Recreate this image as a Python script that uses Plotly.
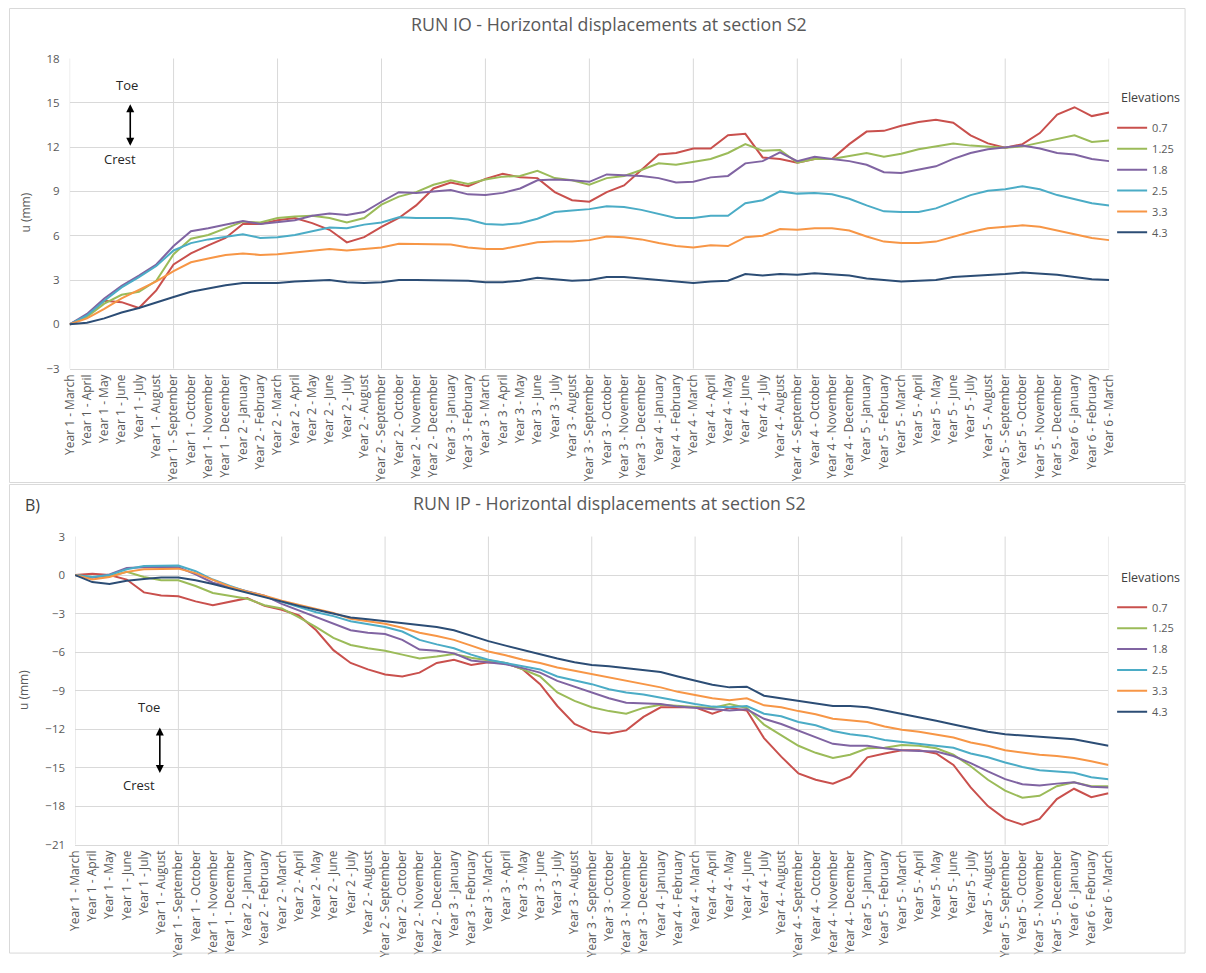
import plotly.graph_objects as go

# ---- category labels (monthly readings, Year 1 March .. Year 6 March) ----
MONTHS = ["January", "February", "March", "April", "May", "June", "July",
          "August", "September", "October", "November", "December"]
labels = ([f"Year 1 - {m}" for m in MONTHS[2:]]
          + [f"Year {y} - {m}" for y in range(2, 6) for m in MONTHS]
          + [f"Year 6 - {m}" for m in MONTHS[:3]])

elevations = ["0.7", "1.25", "1.8", "2.5", "3.3", "4.3"]
colors = ["#C9504D", "#9BBB59", "#8064A2", "#4BACC6", "#F79646", "#2C4D75"]

# ---- RUN IO : horizontal displacement u (mm) ----
io_07 = [0, 0.6, 1.6, 1.5, 1.1, 2.3, 4.05, 4.8, 5.35, 5.85,
         6.8, 6.8, 7.05, 7.2, 6.85, 6.4, 5.55, 5.9, 6.6, 7.2,
         8.05, 9.2, 9.6, 9.35, 9.85, 10.2, 9.95, 9.9, 8.95, 8.4,
         8.3, 8.95, 9.4, 10.45, 11.5, 11.6, 11.9, 11.9, 12.8, 12.9,
         11.3, 11.2, 10.95, 11.2, 11.2, 12.2, 13.05, 13.1, 13.45, 13.7,
         13.85, 13.65, 12.8, 12.25, 11.95, 12.2, 12.95, 14.2, 14.7, 14.1, 14.35]
io_125 = [0, 0.5, 1.4, 2.0, 2.2, 2.95, 4.75, 5.8, 6.05, 6.5,
          6.95, 6.9, 7.2, 7.3, 7.35, 7.2, 6.9, 7.2, 8.1, 8.65,
          8.95, 9.45, 9.75, 9.5, 9.8, 10.0, 10.05, 10.4, 9.9, 9.75,
          9.45, 9.9, 10.05, 10.45, 10.9, 10.8, 11.0, 11.2, 11.6, 12.2,
          11.75, 11.8, 10.95, 11.2, 11.2, 11.4, 11.6, 11.35, 11.55, 11.85,
          12.05, 12.25, 12.1, 12.05, 11.95, 12.05, 12.3, 12.6, 12.8, 12.35, 12.45]
io_18 = [0, 0.7, 1.75, 2.6, 3.3, 4.05, 5.3, 6.3, 6.5, 6.75,
         7.0, 6.8, 6.9, 7.05, 7.35, 7.5, 7.4, 7.6, 8.3, 8.95,
         8.9, 9.0, 9.1, 8.8, 8.75, 8.9, 9.2, 9.75, 9.8, 9.75,
         9.65, 10.15, 10.1, 10.05, 9.9, 9.6, 9.65, 9.95, 10.05, 10.9,
         11.05, 11.65, 11.05, 11.35, 11.2, 11.05, 10.8, 10.3, 10.25, 10.45,
         10.7, 11.2, 11.6, 11.85, 11.95, 12.1, 11.9, 11.6, 11.5, 11.2, 11.05]
io_25 = [0, 0.6, 1.6, 2.5, 3.2, 3.95, 5.0, 5.5, 5.75, 5.9,
         6.1, 5.85, 5.9, 6.05, 6.3, 6.55, 6.5, 6.75, 6.9, 7.25,
         7.2, 7.2, 7.2, 7.1, 6.8, 6.75, 6.85, 7.15, 7.6, 7.7,
         7.8, 8.0, 7.95, 7.75, 7.45, 7.2, 7.2, 7.35, 7.35, 8.2,
         8.4, 9.0, 8.85, 8.9, 8.8, 8.5, 8.05, 7.65, 7.6, 7.6,
         7.85, 8.3, 8.75, 9.05, 9.15, 9.35, 9.15, 8.75, 8.5, 8.2, 8.05]
io_33 = [0, 0.4, 1.05, 1.75, 2.33, 2.9, 3.6, 4.2, 4.45, 4.7,
         4.8, 4.7, 4.75, 4.85, 5.0, 5.1, 5.0, 5.1, 5.2, 5.45,
         5.45, 5.4, 5.4, 5.2, 5.1, 5.1, 5.3, 5.55, 5.6, 5.6,
         5.7, 5.95, 5.9, 5.75, 5.5, 5.3, 5.2, 5.35, 5.3, 5.9,
         6.0, 6.45, 6.4, 6.5, 6.5, 6.35, 5.95, 5.6, 5.5, 5.5,
         5.6, 5.95, 6.25, 6.5, 6.6, 6.7, 6.6, 6.35, 6.1, 5.85, 5.7]
io_43 = [0, 0.1, 0.4, 0.8, 1.1, 1.5, 1.85, 2.2, 2.45, 2.65,
         2.8, 2.8, 2.8, 2.9, 2.95, 3.0, 2.85, 2.8, 2.85, 3.0,
         3.0, 3.0, 3.0, 2.95, 2.85, 2.85, 2.95, 3.15, 3.05, 2.95,
         3.0, 3.2, 3.2, 3.1, 3.0, 2.9, 2.8, 2.9, 2.95, 3.4,
         3.3, 3.4, 3.35, 3.45, 3.4, 3.3, 3.1, 3.0, 2.9, 2.95,
         3.0, 3.2, 3.25, 3.35, 3.4, 3.5, 3.45, 3.35, 3.2, 3.05, 3.0]

# ---- RUN IP : horizontal displacement u (mm) ----
ip_07 = [0, 0.1, 0, -0.35, -1.35, -1.6, -1.65, -2.05, -2.35, -2.1,
         -1.8, -2.4, -2.7, -3.15, -4.3, -5.85, -6.85, -7.35, -7.75, -7.9,
         -7.6, -6.85, -6.6, -7.0, -6.8, -6.85, -7.35, -8.5, -10.2, -11.6,
         -12.2, -12.35, -12.1, -11.05, -10.3, -10.3, -10.3, -10.8, -10.35, -10.55,
         -12.7, -14.15, -15.45, -15.95, -16.25, -15.7, -14.2, -13.9, -13.65, -13.65,
         -13.9, -14.8, -16.55, -18.0, -19.0, -19.45, -19.0, -17.45, -16.65, -17.3, -17.0]
ip_125 = [0, -0.15, -0.1, 0.25, -0.15, -0.4, -0.4, -0.85, -1.4, -1.6,
          -1.85, -2.35, -2.6, -3.3, -4.05, -4.9, -5.45, -5.7, -5.9, -6.2,
          -6.5, -6.35, -6.15, -6.45, -6.65, -6.85, -7.35, -7.9, -9.15, -9.8,
          -10.3, -10.6, -10.8, -10.35, -10.1, -10.2, -10.3, -10.35, -10.05, -10.35,
          -11.65, -12.5, -13.3, -13.85, -14.25, -14.0, -13.5, -13.45, -13.25, -13.3,
          -13.5, -14.0, -14.9, -15.95, -16.8, -17.35, -17.2, -16.45, -16.15, -16.45, -16.45]
ip_18 = [0, -0.2, 0.05, 0.55, 0.6, 0.65, 0.6, 0.05, -0.6, -0.95,
         -1.25, -1.6, -2.25, -2.75, -3.3, -3.8, -4.3, -4.5, -4.6, -5.05,
         -5.8, -5.9, -6.1, -6.65, -6.8, -6.95, -7.25, -7.6, -8.25, -8.7,
         -9.15, -9.6, -9.95, -10.0, -10.05, -10.25, -10.35, -10.5, -10.55, -10.45,
         -11.2, -11.6, -12.1, -12.6, -13.15, -13.3, -13.3, -13.5, -13.65, -13.7,
         -13.75, -14.1, -14.65, -15.3, -15.9, -16.3, -16.4, -16.25, -16.15, -16.5, -16.55]
ip_25 = [0, -0.15, 0, 0.45, 0.7, 0.75, 0.75, 0.3, -0.35, -0.85,
         -1.3, -1.65, -2.1, -2.5, -2.9, -3.2, -3.6, -3.8, -4.05, -4.4,
         -5.05, -5.4, -5.7, -6.2, -6.6, -6.85, -7.1, -7.35, -7.9, -8.2,
         -8.5, -8.9, -9.15, -9.3, -9.55, -9.85, -10.05, -10.25, -10.3, -10.2,
         -10.8, -11.0, -11.45, -11.7, -12.15, -12.4, -12.55, -12.85, -13.0, -13.1,
         -13.25, -13.45, -13.9, -14.2, -14.6, -14.95, -15.2, -15.3, -15.4, -15.75, -15.9]
ip_33 = [0, -0.35, -0.15, 0.25, 0.45, 0.5, 0.5, 0.15, -0.4, -0.9,
         -1.3, -1.6, -2.0, -2.35, -2.65, -2.95, -3.4, -3.6, -3.8, -4.1,
         -4.5, -4.75, -5.05, -5.5, -5.95, -6.25, -6.6, -6.85, -7.2, -7.45,
         -7.7, -7.95, -8.2, -8.45, -8.75, -9.1, -9.35, -9.6, -9.75, -9.6,
         -10.15, -10.3, -10.6, -10.85, -11.2, -11.35, -11.45, -11.8, -12.05, -12.2,
         -12.4, -12.65, -13.05, -13.3, -13.65, -13.85, -14.0, -14.1, -14.25, -14.5, -14.8]
ip_43 = [0, -0.55, -0.7, -0.45, -0.3, -0.2, -0.2, -0.4, -0.7, -1.05,
         -1.4, -1.75, -2.05, -2.4, -2.7, -3.0, -3.3, -3.45, -3.6, -3.8,
         -3.95, -4.05, -4.3, -4.75, -5.15, -5.5, -5.85, -6.15, -6.5, -6.8,
         -7.0, -7.1, -7.25, -7.35, -7.55, -7.9, -8.2, -8.55, -8.75, -8.7,
         -9.4, -9.6, -9.8, -10.0, -10.2, -10.2, -10.3, -10.55, -10.8, -11.1,
         -11.35, -11.65, -11.95, -12.2, -12.4, -12.5, -12.55, -12.65, -12.8, -13.05, -13.3]

run_io = [io_07, io_125, io_18, io_25, io_33, io_43]
run_ip = [ip_07, ip_125, ip_18, ip_25, ip_33, ip_43]

# The page body keeps its default 8 px margin, so the figure starts 8 px in;
# positions below are given in page pixels.
PAGE_OFF = 8
W, H = 1206 - PAGE_OFF, 973 - PAGE_OFF
FONT = "Open Sans"
GRID = "#d9d9d9"
GREY = "#595959"


def px(x):
    return (x - PAGE_OFF) / W


def py(y):
    return 1 - (y - PAGE_OFF) / H


x_idx = list(range(len(labels)))
fig = go.Figure()

for name, col, ys in zip(elevations, colors, run_io):
    fig.add_trace(go.Scatter(x=x_idx, y=ys, name=name, mode="lines",
                             line=dict(color=col, width=2),
                             xaxis="x", yaxis="y", legend="legend",
                             legendgroup="io" + name))
for name, col, ys in zip(elevations, colors, run_ip):
    fig.add_trace(go.Scatter(x=x_idx, y=ys, name=name, mode="lines",
                             line=dict(color=col, width=2),
                             xaxis="x2", yaxis="y2", legend="legend2",
                             legendgroup="ip" + name))

xcommon = dict(range=[0, 60], tickmode="array", tickvals=x_idx, ticktext=labels,
               tickangle=-90, showgrid=False, zeroline=False, showline=True,
               linecolor=GRID, linewidth=1, ticks="",
               tickfont=dict(family=FONT, size=12, color=GREY))
ycommon = dict(dtick=3, showgrid=True, gridcolor=GRID, gridwidth=1,
               zeroline=False, showline=False, ticks="", ticklabelstandoff=9,
               tickfont=dict(family=FONT, size=11.5, color=GREY))

legend_common = dict(xanchor="left", yanchor="top", bgcolor="rgba(0,0,0,0)",
                     traceorder="grouped", tracegroupgap=1.9,
                     font=dict(family=FONT, size=11, color=GREY))

fig.update_layout(
    width=W, height=H, autosize=False,
    margin=dict(l=0, r=0, t=0, b=0),
    paper_bgcolor="white", plot_bgcolor="white",
    font=dict(family=FONT, color=GREY),
    xaxis=dict(domain=[px(69.5), px(1124)], anchor="y", **xcommon),
    yaxis=dict(domain=[py(374.3), py(59.3)], range=[-3, 18], anchor="x", **ycommon),
    xaxis2=dict(domain=[px(75), px(1123.3)], anchor="y2", **xcommon),
    yaxis2=dict(domain=[py(857.8), py(544.9)], range=[-21, 3], anchor="x2", **ycommon),
    legend=dict(x=px(1127), y=py(115), **legend_common),
    legend2=dict(x=px(1127), y=py(602), **legend_common),
    hovermode=False,
)

shapes = []
# vertical gridlines every six months
for xa, ya in (("x", "y"), ("x2", "y2")):
    for k in range(0, 61, 6):
        shapes.append(dict(type="line", xref=xa, yref=ya + " domain",
                           x0=k, x1=k, y0=0, y1=1, layer="below",
                           line=dict(color=GRID, width=1)))
# chart-area frames
shapes.append(dict(type="rect", xref="paper", yref="paper",
                   x0=px(8.5), x1=px(1201), y0=py(490), y1=py(8.5),
                   line=dict(color=GRID, width=1)))
shapes.append(dict(type="rect", xref="paper", yref="paper",
                   x0=px(8.5), x1=px(1201), y0=py(968), y1=py(492),
                   line=dict(color=GRID, width=1)))
fig.update_layout(shapes=shapes)

ann = []


def text(x, y, t, size, color, angle=0, xanchor="center"):
    ann.append(dict(x=px(x), y=py(y), xref="paper", yref="paper", text=t,
                    showarrow=False, textangle=angle, xanchor=xanchor,
                    yanchor="middle",
                    font=dict(family=FONT, size=size, color=color)))


def arrow(x, y_top, y_bot):
    ann.append(dict(x=px(x), y=py(y_bot), xref="paper", yref="paper", text="",
                    showarrow=True, ax=0, ay=-(y_bot - y_top),
                    arrowside="end+start", arrowhead=2, arrowsize=1,
                    arrowwidth=1.6, arrowcolor="#000000",
                    standoff=0, startstandoff=0))


text(617, 24, "RUN IO - Horizontal displacements at section S2", 17.8, GREY)
text(617, 511, "RUN IP - Horizontal displacements at section S2", 17.8, GREY)
text(22, 513, "B)", 16, "#404040", xanchor="left")
text(25, 216, "u (mm)", 12, GREY, angle=-90)
text(22, 701, "u (mm)", 12, GREY, angle=-90)

# legend headings
text(1134, 99, "Elevations", 12.5, "#404040", xanchor="left")
text(1134, 586, "Elevations", 12.5, "#404040", xanchor="left")

text(128, 86, "Toe", 13, "#262626")
text(121, 161, "Crest", 13, "#262626")
arrow(131, 105, 148)

text(150, 718, "Toe", 13, "#262626")
text(140, 797, "Crest", 13, "#262626")
arrow(161, 738, 785)

fig.update_layout(annotations=ann)

fig.write_html("out.html")
